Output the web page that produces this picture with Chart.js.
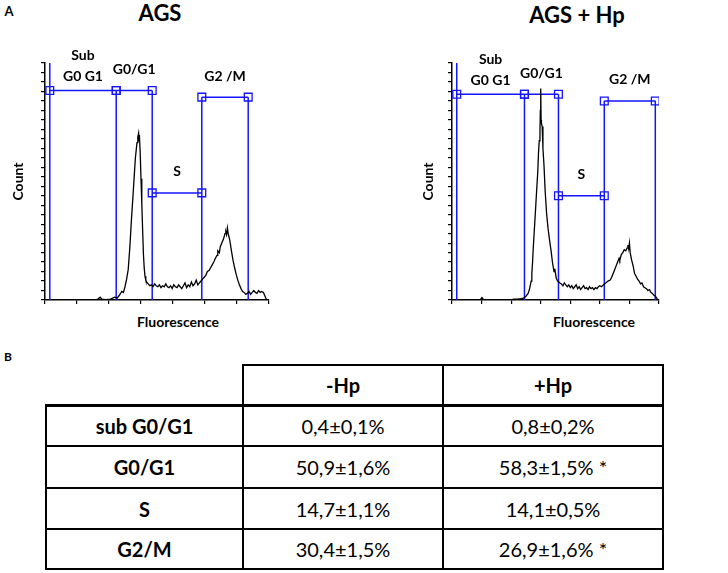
<!DOCTYPE html>
<html>
<head>
<meta charset="utf-8">
<title>AGS cell cycle</title>
<script src="https://cdn.jsdelivr.net/npm/chart.js@4.4.0/dist/chart.umd.min.js"></script>
<style>
  html, body { margin: 0; padding: 0; background: #fff; }
  body { width: 728px; height: 573px; position: relative; overflow: hidden; font-family: Lato, "Noto Sans", sans-serif; color: #000; }
  .lbl { position: absolute; transform: translate(-50%, -50%); white-space: nowrap; font-weight: bold; line-height: 1; }
  canvas { position: absolute; top: 0; }
  #cellTable { position: absolute; left: 45px; top: 364px; border-collapse: collapse; table-layout: fixed; font-size: 20px; }
  #cellTable td { border: 2px solid #000; text-align: center; padding: 0; }
  #cellTable td.corner { border-top: none; border-left: none; }
  #cellTable tr.first td { border-top: 3px solid #000; }
  #cellTable td.head, #cellTable td.phase { font-weight: bold; }
</style>
</head>
<body>
<div class="lbl" style="left:9px; top:11px; font-size:13px;">A</div>
<div class="lbl" style="left:160px; top:13px; font-size:22px;">AGS</div>
<div class="lbl" style="left:577px; top:15px; font-size:22px;">AGS + Hp</div>
<div class="lbl" style="left:178px; top:322px; font-size:14px;">Fluorescence</div>
<div class="lbl" style="left:594px; top:322px; font-size:14px;">Fluorescence</div>
<div class="lbl" style="left:8px; top:357px; font-size:12px;">B</div>

<canvas id="agsChart" width="290" height="340" style="left:0px;"></canvas>
<canvas id="hpChart" width="270" height="340" style="left:410px;"></canvas>

<table id="cellTable"></table>

<script>
// fluorescence channel / count pairs
const agsTrace = [
  [62, 0], [66, 1], [69, 3], [71, 1], [76, 0.5], [82, 1], [87, 3], [90, 2], [93, 5], [96, 9],
  [98, 8], [100, 14], [102, 22], [104, 32], [106, 55], [108, 84], [110, 110], [112, 137], [113, 150], [114, 158],
  [115, 166], [116, 172], [117, 176], [117.5, 168], [118, 174], [119, 155], [120, 128], [121, 102], [122, 75], [123, 49],
  [124, 34], [125, 25], [126, 21], [127, 19], [129, 17], [131, 15], [133, 16], [135, 14], [137, 17], [139, 15],
  [141, 14], [143, 16], [145, 13], [147, 15], [149, 14], [151, 17], [153, 14], [155, 13], [157, 15], [159, 12],
  [161, 16], [163, 14], [165, 13], [167, 16], [169, 14], [171, 12], [173, 15], [175, 18], [177, 13], [179, 16],
  [181, 14], [183, 19], [185, 15], [187, 17], [189, 21], [191, 16], [193, 18], [195, 20], [197, 22], [199, 24],
  [201, 26], [203, 30], [205, 31], [207, 34], [209, 37], [211, 40], [213, 44], [215, 47], [216, 52], [218, 50],
  [219, 56], [221, 60], [223, 64], [225, 70], [226, 72], [227, 69], [228, 76], [229, 70], [231, 63], [233, 52],
  [235, 42], [237, 34], [239, 27], [241, 21], [243, 16], [245, 12], [247, 9], [249, 8], [251, 6], [253, 7],
  [255, 9], [257, 6], [259, 8], [261, 10], [263, 8], [265, 7], [267, 10], [269, 8], [271, 9], [273, 8],
  [275, 4], [277, 0]
];
const hpTrace = [
  [38, 0], [40.5, 2.5], [43, 0], [80, 0], [83, 1], [88, 1], [93, 1.5], [97, 2], [100, 4], [103, 7],
  [105, 12], [107, 20], [108, 28], [109, 40], [110, 56], [112, 82], [114, 109], [116, 135], [117, 155], [118, 168],
  [119, 179], [119.5, 200], [120, 223], [120.5, 190], [121, 186], [122, 183], [123, 160], [124.5, 141], [126, 115], [128, 91],
  [130, 75], [132.5, 60], [134, 52], [136, 39], [138, 30], [139, 33], [141, 23], [143, 20], [146, 18], [148, 17],
  [150, 15], [152, 18], [154, 16], [156, 14], [158, 16], [160, 13], [162, 15], [164, 12], [166, 14], [168, 16],
  [170, 12], [172, 14], [174, 11], [176, 13], [178, 15], [180, 12], [182, 13], [184, 11], [186, 14], [188, 12],
  [190, 13], [192, 11], [194, 13], [196, 12], [198, 14], [200, 15], [202, 14], [205, 16], [208, 18], [211, 20],
  [214, 21], [216, 24], [218, 28], [220, 32], [222, 36], [224, 40], [226, 44], [227, 42], [229, 48], [231, 50],
  [233, 53], [235, 52], [237, 55], [238, 58], [239, 54], [240, 60], [241, 50], [243, 42], [245, 36], [247, 28],
  [249, 25], [251, 22], [253, 20], [255, 17], [257, 18], [259, 14], [261, 13], [263, 12], [265, 10], [267, 11],
  [269, 8], [271, 7], [273, 5], [275, 4], [277, 2], [278, 0]
];

// gates: edges between sub G0/G1 | G0/G1 | S | G2/M, and the height of each gate marker
const gateNames = [['Sub', 'G0 G1'], ['G0/G1'], ['S'], ['G2 /M']];
const agsGateEdges = [6, 89, 134, 196, 254];
const agsGateLevels = [221, 221, 113, 214];
const hpGateEdges = [6.4, 98, 144, 206, 275];
const hpGateLevels = [217, 217, 110, 210];

const CHANNEL_MAX = 280;
const COUNT_MAX = 250;

// table B
const groups = ['-Hp', '+Hp'];
const phases = ['sub G0/G1', 'G0/G1', 'S', 'G2/M'];
const minusHp = ['0,4±0,1%', '50,9±1,6%', '14,7±1,1%', '30,4±1,5%'];
const plusHp = ['0,8±0,2%', '58,3±1,5% *', '14,1±0,5%', '26,9±1,6% *'];

const BLUE = 'rgb(20, 20, 255)';

const gateLabels = {
  id: 'gateLabels',
  afterDatasetsDraw(chart, args, opts) {
    const { ctx, scales: { x, y } } = chart;
    ctx.save();
    ctx.font = 'bold 14px Lato, sans-serif';
    ctx.fillStyle = '#000';
    ctx.textAlign = 'center';
    ctx.textBaseline = 'middle';
    gateNames.forEach((lines, i) => {
      const cx = (x.getPixelForValue(opts.edges[i]) + x.getPixelForValue(opts.edges[i + 1])) / 2;
      const base = y.getPixelForValue(opts.levels[i]) - (lines.length > 1 ? 14 : 21);
      lines.forEach((t, k) => ctx.fillText(t, cx, base - (lines.length - 1 - k) * 21));
    });
    ctx.restore();
  }
};

function makeHistogram(id, trace, edges, levels, yAxisWidth, rightPad) {
  const datasets = [{
    data: trace.map(p => ({ x: p[0], y: p[1] })),
    borderColor: '#000',
    borderWidth: 1.3,
    pointRadius: 0,
    showLine: true
  }];

  // vertical gate boundaries
  edges.forEach((x, j) => {
    const top = j === 0 ? COUNT_MAX : Math.max(levels[j - 1] || 0, levels[j] || 0);
    datasets.push({
      data: [{ x, y: 0 }, { x, y: top }],
      borderColor: BLUE, borderWidth: 1.5, pointRadius: 0, showLine: true
    });
  });

  // horizontal gate bars with square handles
  levels.forEach((y, i) => {
    datasets.push({
      data: [{ x: edges[i], y }, { x: edges[i + 1], y }],
      borderColor: BLUE, borderWidth: 1.5, showLine: true,
      pointStyle: 'rect', pointRadius: 5.5, pointBorderWidth: 1.3,
      pointBorderColor: BLUE, pointBackgroundColor: 'rgba(0,0,0,0)'
    });
  });

  const axisGrid = { drawOnChartArea: false, tickLength: 4, color: '#000', lineWidth: 1.2 };
  const axisBorder = { color: '#000', width: 1.5 };

  new Chart(document.getElementById(id).getContext('2d'), {
    type: 'scatter',
    data: { datasets },
    options: {
      responsive: false,
      animation: false,
      layout: { padding: { top: 63, right: rightPad, left: 0, bottom: 0 } },
      plugins: {
        legend: { display: false },
        tooltip: { enabled: false },
        gateLabels: { edges, levels }
      },
      scales: {
        x: {
          type: 'linear', min: 0, max: CHANNEL_MAX,
          afterFit: (s) => { s.height = 40; },
          ticks: { display: false, stepSize: 40 },
          grid: axisGrid,
          border: axisBorder
        },
        y: {
          type: 'linear', min: 0, max: COUNT_MAX,
          afterFit: (s) => { s.width = yAxisWidth; },
          ticks: { display: false, stepSize: 10 },
          grid: axisGrid,
          border: axisBorder,
          title: {
            display: true, text: 'Count', color: '#000',
            font: { family: 'Lato', weight: 'bold', size: 14 },
            padding: { top: 10, bottom: 0 }
          }
        }
      }
    },
    plugins: [gateLabels]
  });
}

makeHistogram('agsChart', agsTrace, agsGateEdges, agsGateLevels, 45, 21);
makeHistogram('hpChart', hpTrace, hpGateEdges, hpGateLevels, 42, 21);

// table
(function () {
  const table = document.getElementById('cellTable');
  const colWidths = [197, 200, 220];
  const rowHeights = [40, 41, 42, 41, 40];
  const cg = document.createElement('colgroup');
  colWidths.forEach(w => {
    const c = document.createElement('col');
    c.style.width = w + 'px';
    cg.appendChild(c);
  });
  table.appendChild(cg);

  let html = '<tr style="height:' + rowHeights[0] + 'px"><td class="corner"></td>';
  groups.forEach(g => { html += '<td class="head">' + g + '</td>'; });
  html += '</tr>';
  phases.forEach((p, i) => {
    html += '<tr class="' + (i === 0 ? 'first' : '') + '" style="height:' + rowHeights[i + 1] + 'px">' +
      '<td class="phase">' + p + '</td><td>' + minusHp[i] + '</td><td>' + plusHp[i] + '</td></tr>';
  });
  table.insertAdjacentHTML('beforeend', html);
})();
</script>
</body>
</html>
